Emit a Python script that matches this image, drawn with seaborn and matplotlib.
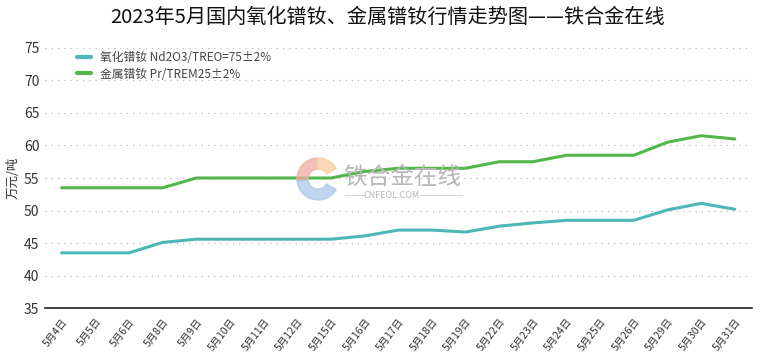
import numpy as np
import pandas as pd
import matplotlib.pyplot as plt
import matplotlib.patches as mpatches
import seaborn as sns

dates = ["5月4日", "5月5日", "5月6日", "5月8日", "5月9日", "5月10日", "5月11日",
         "5月12日", "5月15日", "5月16日", "5月17日", "5月18日", "5月19日", "5月22日",
         "5月23日", "5月24日", "5月25日", "5月26日", "5月29日", "5月30日", "5月31日"]
oxide = [43.5, 43.5, 43.5, 45.1, 45.6, 45.6, 45.6, 45.6, 45.6, 46.1, 47.0,
         47.0, 46.7, 47.6, 48.1, 48.5, 48.5, 48.5, 50.1, 51.1, 50.2]
metal = [53.5, 53.5, 53.5, 53.5, 55.0, 55.0, 55.0, 55.0, 55.0, 56.0, 56.5,
         56.5, 56.5, 57.5, 57.5, 58.5, 58.5, 58.5, 60.5, 61.5, 61.0]
series_names = ["氧化镨钕 Nd2O3/TREO=75±2%", "金属镨钕 Pr/TREM25±2%"]
colors = ["#4db6b6", "#52b64a"]
y_ticks = [35, 40, 45, 50, 55, 60, 65, 70, 75]

title = "2023年5月国内氧化镨钕、金属镨钕行情走势图——铁合金在线"

sns.set_style("white")
plt.rcParams["font.family"] = ["Noto Sans CJK SC", "DejaVu Sans"]

df = pd.DataFrame({
    "pos": list(range(len(dates))) * 2,
    "value": oxide + metal,
    "series": [series_names[0]] * len(dates) + [series_names[1]] * len(dates),
})

fig = plt.figure(figsize=(7.6, 3.6), dpi=100)
ax = fig.add_axes([0.059, 0.144, 0.930, 0.723])

# watermark behind the lines (logo drawn in inches so it stays round)
cx, cy = 3.18, 3.6 - 1.79
for start, end, col in [(95, 185, "#f2aaa2"), (30, 95, "#f6cb9c"), (185, 330, "#abc6e8")]:
    w = mpatches.Wedge((cx, cy), 0.21, start, end, width=0.11,
                       transform=fig.dpi_scale_trans, color=col, alpha=0.75, zorder=0)
    fig.patches.append(w)
fig.text(402 / 760, 1 - 177 / 360, "铁合金在线", fontsize=17, color="#b8b8b8",
         ha="center", va="center", zorder=0)
fig.text(392 / 760, 1 - 195 / 360, "CNFEOL.COM", fontsize=6.5, color="#b5b5b5",
         ha="center", va="center", zorder=0)
fig.add_artist(plt.Line2D([345 / 760, 365 / 760], [1 - 195 / 360] * 2,
                          transform=fig.transFigure, color="#cccccc", linewidth=0.6, zorder=0))
fig.add_artist(plt.Line2D([420 / 760, 462 / 760], [1 - 195 / 360] * 2,
                          transform=fig.transFigure, color="#cccccc", linewidth=0.6, zorder=0))

sns.lineplot(data=df, x="pos", y="value", hue="series", palette=colors,
             linewidth=2.2, ax=ax, legend=True)
ax.patch.set_alpha(0)

ax.set_xlim(-0.5, len(dates) - 0.5)
ax.set_ylim(35, 75)
ax.set_yticks(y_ticks)
ax.set_yticklabels([str(v) for v in y_ticks], fontsize=10, color="#333333")
ax.set_xticks(range(len(dates)))
ax.set_xticklabels(dates, rotation=52, ha="right", rotation_mode="anchor",
                   fontsize=7.5, color="#333333")
ax.set_xticks(np.arange(-0.5, len(dates), 1.0), minor=True)
ax.tick_params(axis="x", which="major", length=0, pad=6)
ax.tick_params(axis="x", which="minor", length=4, width=1, color="#222222", direction="out")
ax.tick_params(axis="y", length=0, pad=4)

for v in y_ticks[1:]:
    ax.axhline(v, color="#bdbdbd", linestyle=(0, (1, 4)), linewidth=0.9, zorder=0)

for s in ["left", "right", "top"]:
    ax.spines[s].set_visible(False)
ax.spines["bottom"].set_color("#222222")
ax.spines["bottom"].set_linewidth(1.2)

ax.set_xlabel("")
ax.set_ylabel("万元/吨", fontsize=9, color="#333333", labelpad=3)

leg = ax.legend(loc="upper left", bbox_to_anchor=(0.035, 1.015), frameon=False,
                fontsize=8.5, handlelength=1.2, handletextpad=0.8,
                labelspacing=0.3, borderaxespad=0.2)
for t in leg.get_texts():
    t.set_color("#444444")
for line in leg.get_lines():
    line.set_linewidth(3)

fig.text(0.51, 1 - 17 / 360, title, fontsize=14.5, ha="center", va="center", color="#111111")

fig.savefig("out.png", dpi=100)
